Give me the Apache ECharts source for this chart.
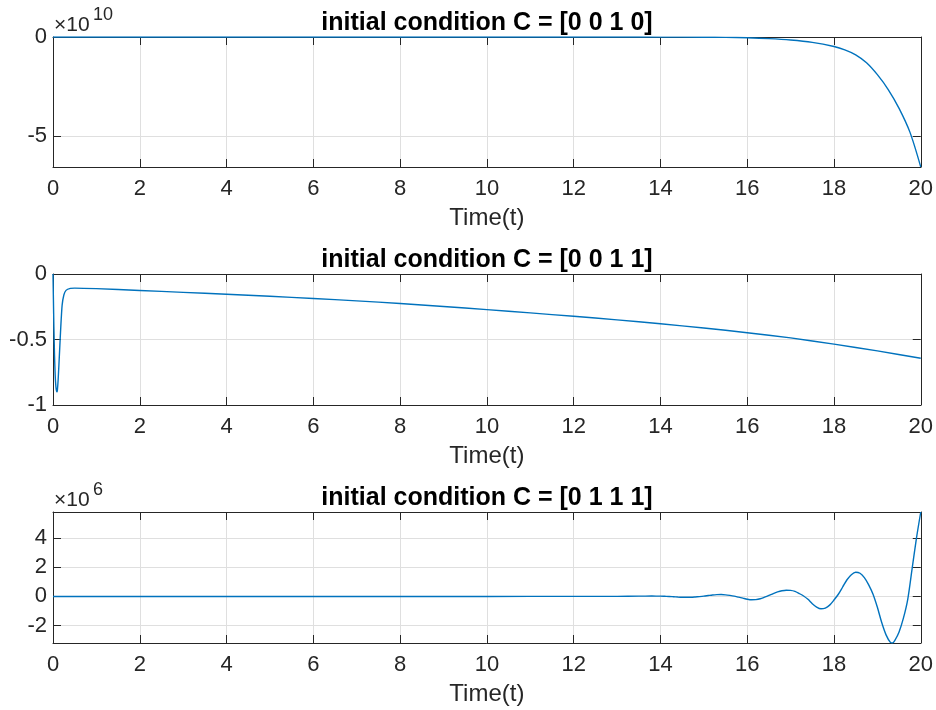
<!DOCTYPE html>
<html>
<head>
<meta charset="utf-8">
<script src="https://cdn.jsdelivr.net/npm/echarts@6/dist/echarts.min.js"></script>
<style>
html,body{margin:0;padding:0;background:#fff;}
#chart{width:936px;height:710px;}
</style>
</head>
<body>
<div id="chart"></div>
<script>
// ---- data ----
const titles = ['initial condition C = [0 0 1 0]', 'initial condition C = [0 0 1 1]', 'initial condition C = [0 1 1 1]'];
const xTicks = [0, 2, 4, 6, 8, 10, 12, 14, 16, 18, 20];

// panel 1, values in units of 1e10
const tTop = [0, 2, 4, 6, 8, 10, 12, 13, 14, 15, 15.5, 16, 16.5, 17, 17.5, 18, 18.25, 18.5, 18.75, 19, 19.25, 19.5, 19.75, 20];
const yTop = [0, 0, 0, 0, 0, 0, 0, -0.001, -0.004, -0.01, -0.02, -0.04, -0.08, -0.15, -0.27, -0.48, -0.65, -0.9, -1.3, -1.9, -2.65, -3.6, -4.8, -6.56];
const yTopTicks = [-5, 0];

// panel 2
const tMid = [0, 0.01, 0.02, 0.035, 0.05, 0.07, 0.09, 0.1, 0.12, 0.15, 0.18, 0.21, 0.25, 0.3, 0.4, 0.5, 1, 2, 3, 4, 5, 6, 7, 8, 9, 10, 11, 12, 13, 14, 15, 16, 17, 18, 19, 20];
const yMid = [0, -0.2, -0.4, -0.62, -0.77, -0.87, -0.9, -0.89, -0.8, -0.6, -0.4, -0.24, -0.16, -0.125, -0.11, -0.108, -0.112, -0.126, -0.14, -0.155, -0.17, -0.187, -0.205, -0.225, -0.248, -0.272, -0.297, -0.323, -0.35, -0.38, -0.412, -0.448, -0.488, -0.535, -0.587, -0.643];
const yMidTicks = [-1, -0.5, 0];

// panel 3, values in units of 1e6
const tBot = [0, 2, 4, 6, 8, 10, 12, 13, 13.5, 13.8, 14.0, 14.1, 14.2, 14.3, 14.4, 14.5, 14.6, 14.7, 14.8, 14.9,
  15.0, 15.1, 15.2, 15.3, 15.4, 15.5, 15.6, 15.7, 15.8, 15.9, 16.0, 16.1, 16.2, 16.3, 16.4, 16.5, 16.6, 16.7, 16.8, 16.9,
  17.0, 17.1, 17.2, 17.3, 17.4, 17.5, 17.6, 17.7, 17.8, 17.9, 18.0, 18.1, 18.2, 18.3, 18.4, 18.5, 18.6, 18.7, 18.8, 18.9,
  19.0, 19.1, 19.2, 19.3, 19.35, 19.4, 19.5, 19.6, 19.7, 19.8, 19.9, 20.0];
const yBot = [0, 0, 0, 0, 0, 0, 0.002, 0.005, 0.02, 0.025, 0.02, 0.01, 0.0, -0.02, -0.04, -0.055, -0.06, -0.055, -0.035, -0.01,
  0.02, 0.06, 0.1, 0.125, 0.13, 0.11, 0.07, 0.02, -0.05, -0.12, -0.19, -0.23, -0.22, -0.16, -0.05, 0.07, 0.2, 0.31, 0.39, 0.43,
  0.42, 0.35, 0.2, 0.03, -0.2, -0.5, -0.73, -0.85, -0.8, -0.6, -0.25, 0.15, 0.65, 1.15, 1.5, 1.67, 1.6, 1.3, 0.8, 0.15,
  -0.75, -1.8, -2.65, -3.17, -3.21, -3.05, -2.45, -1.5, -0.2, 1.9, 4.0, 5.82];
const yBotTicks = [-2, 0, 2, 4];

// ---- chart ----
const FONT = '"Liberation Sans", Arial, Helvetica, sans-serif';
const AX = '#262626';
const GRIDC = '#dfdfdf';
const grids = [
  {left: 53, right: 15, top: 37, height: 130},
  {left: 53, right: 15, top: 274, height: 131},
  {left: 53, right: 15, top: 512, height: 131}
];
const yRanges = [[-6.56, 0, yTopTicks], [-1, 0, yMidTicks], [-3.21, 5.82, yBotTicks]];
const series = [tTop.map((t, i) => [t, yTop[i]]), tMid.map((t, i) => [t, yMid[i]]), tBot.map((t, i) => [t, yBot[i]])];
const smoothness = [0.3, 0.15, 0.3];

const xAxes = [], yAxes = [], ser = [], titleArr = [];
grids.forEach((g, k) => {
  xAxes.push({
    type: 'value', gridIndex: k, min: 0, max: 20, interval: 2, position: 'bottom',
    axisLine: {show: true, onZero: false, lineStyle: {color: AX, width: 1}},
    axisTick: {show: true, inside: true, length: 8, lineStyle: {color: AX}},
    axisLabel: {show: true, color: AX, fontSize: 22, fontFamily: FONT, margin: 11},
    splitLine: {show: true, lineStyle: {color: GRIDC, width: 1}},
    name: 'Time(t)', nameLocation: 'middle', nameGap: 39,
    nameTextStyle: {color: AX, fontSize: 24, fontFamily: FONT}
  });
  xAxes.push({
    type: 'value', gridIndex: k, min: 0, max: 20, interval: 2, position: 'top',
    axisLine: {show: true, onZero: false, lineStyle: {color: AX, width: 1}},
    axisTick: {show: true, inside: true, length: 8, lineStyle: {color: AX}},
    axisLabel: {show: false}, splitLine: {show: false}
  });
  const r = yRanges[k];
  const tickOpt = {show: true, inside: true, length: 8, lineStyle: {color: AX}, customValues: r[2]};
  yAxes.push({
    type: 'value', gridIndex: k, min: r[0], max: r[1], position: 'left',
    axisLine: {show: true, onZero: false, lineStyle: {color: AX, width: 1}},
    axisTick: tickOpt,
    axisLabel: {show: true, color: AX, fontSize: 22, fontFamily: FONT, margin: 6, customValues: r[2],
      formatter: v => String(v)},
    splitLine: {show: true, lineStyle: {color: GRIDC, width: 1}}
  });
  yAxes.push({
    type: 'value', gridIndex: k, min: r[0], max: r[1], position: 'right',
    axisLine: {show: true, onZero: false, lineStyle: {color: AX, width: 1}},
    axisTick: tickOpt,
    axisLabel: {show: false, customValues: r[2]}, splitLine: {show: false}
  });
  ser.push({
    type: 'line', xAxisIndex: 2 * k, yAxisIndex: 2 * k, data: series[k],
    showSymbol: false, smooth: smoothness[k], clip: true,
    lineStyle: {color: '#0072BD', width: 1.4}, silent: true, animation: false
  });
  titleArr.push({
    text: titles[k], left: 482, textAlign: 'center', top: g.top - 31,
    textStyle: {color: '#000', fontSize: 25, fontWeight: 'bold', fontFamily: FONT}
  });
});

const chart = echarts.init(document.getElementById('chart'), null, {renderer: 'canvas'});
chart.setOption({
  animation: false,
  backgroundColor: '#fff',
  title: titleArr,
  grid: grids,
  xAxis: xAxes,
  yAxis: yAxes,
  series: ser,
  graphic: [
    {type: 'text', left: 54, top: 15, style: {text: '×10', fill: AX, fontSize: 21, fontFamily: FONT}},
    {type: 'text', left: 93, top: 6, style: {text: '10', fill: AX, fontSize: 18, fontFamily: FONT}},
    {type: 'text', left: 54, top: 490, style: {text: '×10', fill: AX, fontSize: 21, fontFamily: FONT}},
    {type: 'text', left: 93, top: 481, style: {text: '6', fill: AX, fontSize: 18, fontFamily: FONT}}
  ]
});
</script>
</body>
</html>
